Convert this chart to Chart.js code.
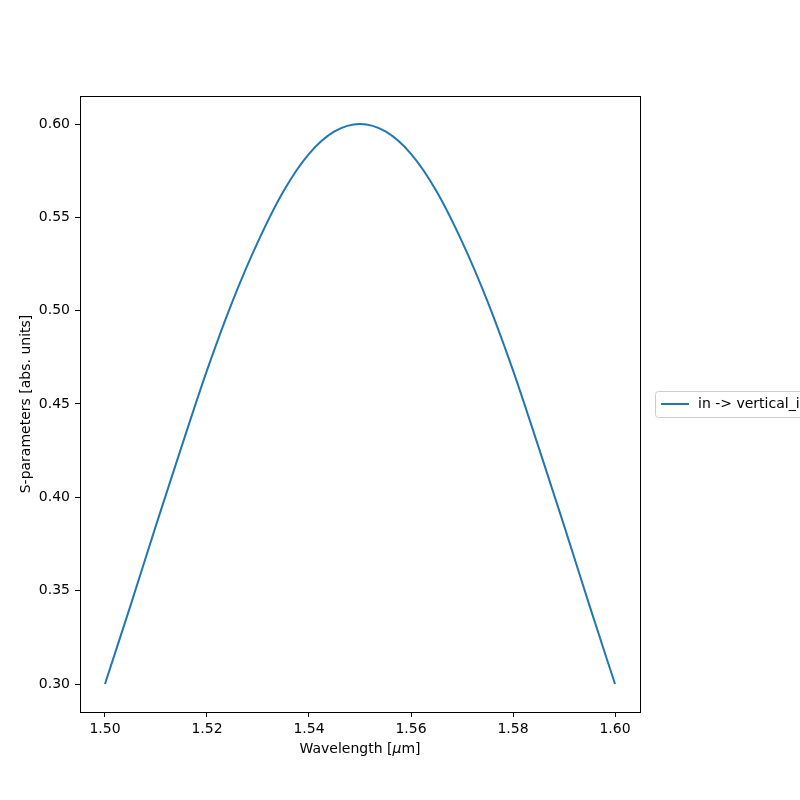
<!DOCTYPE html>
<html>
<head>
<meta charset="utf-8">
<script src="https://cdn.jsdelivr.net/npm/chart.js@4"></script>
<style>
  html, body { margin: 0; padding: 0; background: #fff; }
  #wrap { width: 800px; height: 800px; }
</style>
</head>
<body>
<div id="wrap"><canvas id="chart" width="800" height="800"></canvas></div>
<script>
// wavelength in um
const wavelengths = [1.500, 1.505, 1.510, 1.515, 1.520, 1.525, 1.530, 1.535, 1.540, 1.545,
  1.550, 1.555, 1.560, 1.565, 1.570, 1.575, 1.580, 1.585, 1.590, 1.595, 1.600];
// |S| in -> vertical_in
const sValues = [0.300, 0.342, 0.385, 0.427, 0.468, 0.505, 0.537, 0.564, 0.584, 0.596,
  0.600, 0.596, 0.584, 0.564, 0.537, 0.505, 0.468, 0.427, 0.385, 0.342, 0.300];
const seriesLabel = "in -> vertical_in";
const xTicks = [1.50, 1.52, 1.54, 1.56, 1.58, 1.60];
const yTicks = [0.30, 0.35, 0.40, 0.45, 0.50, 0.55, 0.60];

const FONT = "DejaVu Sans";
const lineColor = "#1f77b4";

const framePlugin = {
  id: "frame",
  afterDraw(chart) {
    const { ctx, chartArea: a } = chart;
    ctx.save();
    ctx.strokeStyle = "#000";
    ctx.lineWidth = 1;
    ctx.strokeRect(Math.round(a.left) + 0.5, Math.round(a.top) + 0.5,
      Math.round(a.right - a.left), Math.round(a.bottom - a.top));

    // axis titles
    ctx.fillStyle = "#000";
    ctx.font = "14px '" + FONT + "'";
    ctx.textBaseline = "middle";
    const p1 = "Wavelength [", p2 = "\u03bc", p3 = "m]";
    const w1 = ctx.measureText(p1).width;
    ctx.font = "italic 14px '" + FONT + "'";
    const w2 = ctx.measureText(p2).width;
    ctx.font = "14px '" + FONT + "'";
    const w3 = ctx.measureText(p3).width;
    let x = (a.left + a.right) / 2 - (w1 + w2 + w3) / 2;
    const y = 749;
    ctx.textAlign = "left";
    ctx.fillText(p1, x, y);
    ctx.font = "italic 14px '" + FONT + "'";
    ctx.fillText(p2, x + w1, y);
    ctx.font = "14px '" + FONT + "'";
    ctx.fillText(p3, x + w1 + w2, y);

    ctx.translate(26, (a.top + a.bottom) / 2);
    ctx.rotate(-Math.PI / 2);
    ctx.textAlign = "center";
    ctx.fillText("S-parameters [abs. units]", 0, 0);
    ctx.restore();

    // legend outside the axes, clipped by the canvas edge
    ctx.save();
    const lx = 655, ly = 391, lw = 170, lh = 26, r = 3;
    ctx.fillStyle = "rgba(255,255,255,0.8)";
    ctx.strokeStyle = "#cccccc";
    ctx.lineWidth = 1;
    ctx.beginPath();
    ctx.roundRect(lx + 0.5, ly + 0.5, lw, lh, r);
    ctx.fill();
    ctx.stroke();
    ctx.strokeStyle = lineColor;
    ctx.lineWidth = 2;
    ctx.beginPath();
    ctx.moveTo(661, 404);
    ctx.lineTo(689, 404);
    ctx.stroke();
    ctx.fillStyle = "#000";
    ctx.font = "14px '" + FONT + "'";
    ctx.textAlign = "left";
    ctx.textBaseline = "middle";
    ctx.fillText(chart.data.datasets[0].label, 698, 404);
    ctx.restore();
  }
};

new Chart(document.getElementById("chart"), {
  type: "line",
  data: {
    datasets: [{
      label: seriesLabel,
      data: wavelengths.map((w, i) => ({ x: w, y: sValues[i] })),
      borderColor: lineColor,
      borderWidth: 2,
      pointRadius: 0,
      cubicInterpolationMode: "monotone",
      fill: false
    }]
  },
  options: {
    responsive: false,
    animation: false,
    devicePixelRatio: 1,
    layout: { padding: { top: 96, right: 160, left: 0, bottom: 0 } },
    plugins: { legend: { display: false }, tooltip: { enabled: false } },
    scales: {
      x: {
        type: "linear",
        min: 1.4951,
        max: 1.6049,
        afterFit: s => { s.height = 88; },
        afterBuildTicks: s => { s.ticks = xTicks.map(v => ({ value: v })); },
        grid: { drawOnChartArea: false, drawTicks: true, tickLength: 5, color: "#000" },
        border: { display: false },
        ticks: {
          color: "#000",
          padding: 4,
          maxRotation: 0,
          font: { family: FONT, size: 14 },
          callback: v => v.toFixed(2)
        }
      },
      y: {
        min: 0.285,
        max: 0.615,
        afterFit: s => { s.width = 80; },
        afterBuildTicks: s => { s.ticks = yTicks.map(v => ({ value: v })); },
        grid: { drawOnChartArea: false, drawTicks: true, tickLength: 5, color: "#000" },
        border: { display: false },
        ticks: {
          color: "#000",
          padding: 5,
          font: { family: FONT, size: 14 },
          callback: v => v.toFixed(2)
        }
      }
    }
  },
  plugins: [framePlugin]
});
</script>
</body>
</html>
